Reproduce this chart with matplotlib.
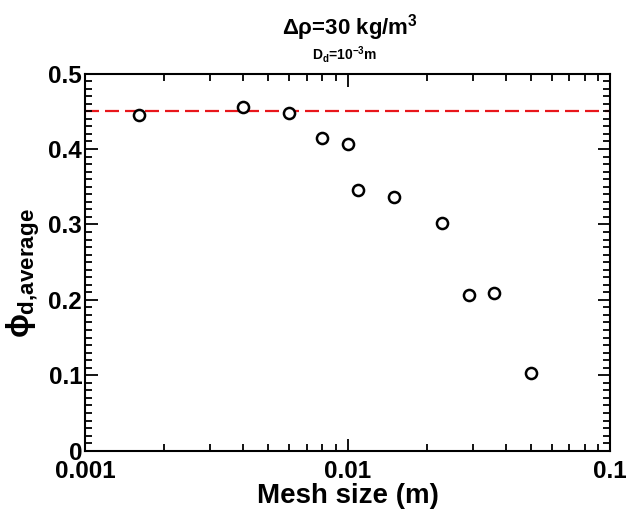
import matplotlib.pyplot as plt
from matplotlib.ticker import FixedLocator, MultipleLocator, NullFormatter

plt.rcParams['font.family'] = ['Liberation Sans', 'DejaVu Sans']
plt.rcParams['mathtext.fontset'] = 'custom'
plt.rcParams['mathtext.rm'] = 'Liberation Sans:bold'
plt.rcParams['mathtext.it'] = 'Liberation Sans:bold'
plt.rcParams['mathtext.bf'] = 'Liberation Sans:bold'
plt.rcParams['mathtext.sf'] = 'Liberation Sans:bold'

# dados
tamanho_malha = [0.0016, 0.004, 0.006, 0.008, 0.010, 0.011, 0.015, 0.023, 0.029, 0.036, 0.050]
phi_medio = [0.445, 0.455, 0.448, 0.415, 0.407, 0.345, 0.336, 0.302, 0.206, 0.209, 0.103]
phi_referencia = 0.45
ticks_x = [0.001, 0.01, 0.1]
rotulos_x = ['0.001', '0.01', '0.1']
ticks_y = [0, 0.1, 0.2, 0.3, 0.4, 0.5]
rotulos_y = ['0', '0.1', '0.2', '0.3', '0.4', '0.5']

fig = plt.figure(figsize=(6.27, 5.09), dpi=100)
ax = fig.add_axes([0.1356, 0.1145, 0.8373, 0.741])

ax.axhline(phi_referencia, color='#e8161b', linestyle=(0, (6.3, 2.7)), linewidth=1.6, zorder=1)
ax.plot(tamanho_malha, phi_medio, linestyle='none', marker='o', markersize=8,
        markerfacecolor='white', markeredgecolor='black', markeredgewidth=1.8, zorder=3)

ax.set_xscale('log')
ax.set_xlim(0.001, 0.1)
ax.set_ylim(0, 0.5)
ax.xaxis.set_major_locator(FixedLocator(ticks_x))
ax.set_xticklabels(rotulos_x)
ax.xaxis.set_minor_locator(FixedLocator([m * d for d in (0.001, 0.01) for m in range(2, 10)]))
ax.xaxis.set_minor_formatter(NullFormatter())
ax.yaxis.set_major_locator(FixedLocator(ticks_y))
ax.set_yticklabels(rotulos_y)
ax.yaxis.set_minor_locator(MultipleLocator(0.01))

ax.tick_params(which='both', direction='in', top=True, right=True, width=1.3)
ax.tick_params(which='major', length=9, labelsize=17.5)
ax.tick_params(axis='x', which='major', pad=7)
ax.tick_params(axis='y', which='major', pad=2)
ax.tick_params(which='minor', length=5)
for lab in ax.get_xticklabels() + ax.get_yticklabels():
    lab.set_fontweight('bold')
for s in ax.spines.values():
    s.set_linewidth(1.5)

ax.set_xlabel('Mesh size (m)', fontsize=20, fontweight='bold', labelpad=0)
ax.set_ylabel(r'$\phi_{\mathrm{d{,}average}}$', fontsize=23)
ax.yaxis.set_label_coords(-0.082, 0.47)

fig.text(0.558, 0.945, r'$\Delta\rho$=30 kg/m$^3$', fontsize=16, fontweight='bold', ha='center', va='center')
fig.text(0.549, 0.893, r'D$_\mathrm{d}$=10$^{-3}$m', fontsize=10, fontweight='bold', ha='center', va='center')

fig.savefig('out.png', dpi=100)
